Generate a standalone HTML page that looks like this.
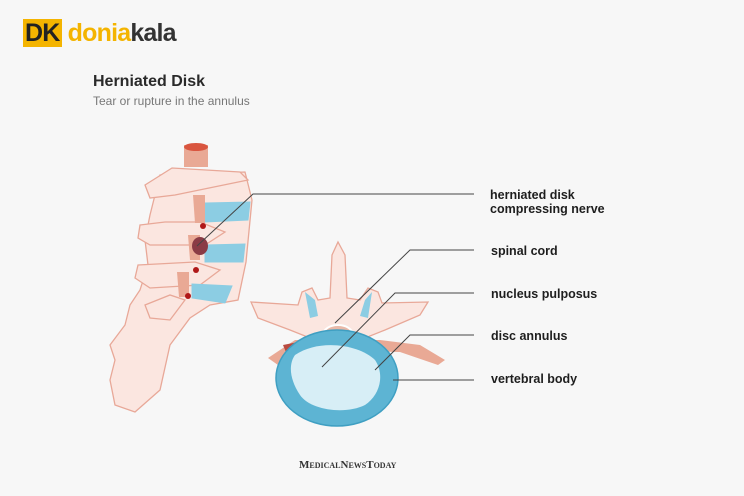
<!DOCTYPE html>
<html><head><meta charset="utf-8"><style>
body{margin:0;width:744px;height:496px;background:#f7f7f7;overflow:hidden;position:relative;font-family:"Liberation Sans",sans-serif}
.t{position:absolute;font-weight:bold;font-size:12.5px;color:#1e1e1e;line-height:14px}
</style></head><body>
<div style="position:absolute;left:23px;top:19px;font-weight:bold;font-size:25px;letter-spacing:-0.8px;line-height:28px"><span style="color:#f4b400;background:#f4b400;color:#222;padding:0 2px">DK</span><span style="color:#f4b400"> donia</span><span style="color:#333">kala</span></div>
<div style="position:absolute;left:93px;top:73px;font-weight:bold;font-size:16px;color:#2a2a2a">Herniated Disk</div>
<div style="position:absolute;left:93px;top:94px;font-size:12px;color:#777">Tear or rupture in the annulus</div>
<svg width="744" height="496" style="position:absolute;left:0;top:0">
<g stroke="#e8a898" stroke-width="1.3" fill="#fbe6e0">
<path d="M160,175 L245,172 L252,200 L246,262 L238,300 L210,305 L190,318 L170,345 L160,390 L135,412 L115,405 L110,380 L115,360 L110,345 L125,325 L130,305 L140,290 L148,265 L145,240 L150,215 Z"/>
<path d="M145,185 L172,168 L240,172 L248,180 L175,195 L150,198 Z"/>
<path d="M140,225 L165,222 L200,222 L225,232 L205,245 L150,245 L138,238Z"/>
<path d="M138,265 L195,262 L220,270 L200,285 L150,288 L135,278Z"/>
<path d="M145,305 L170,295 L185,300 L170,320 L150,318Z"/>
</g>
<g fill="#8ccde3" stroke="#8ccde3">
<path d="M205,203 L250,202 L248,220 L205,222Z"/>
<path d="M205,245 L245,244 L243,262 L205,262Z"/>
<path d="M192,284 L232,286 L225,303 L192,298Z"/>
</g>
<rect x="184" y="145" width="24" height="22" fill="#e9a995"/>
<ellipse cx="196" cy="147" rx="12" ry="4" fill="#d9553f"/>
<path d="M193,195 h12 v28 h-10z" fill="#e9a995"/>
<path d="M188,235 h12 v25 h-10z" fill="#e9a995"/>
<path d="M177,272 h12 v25 h-10z" fill="#e9a995"/>
<ellipse cx="200" cy="246" rx="8" ry="9" fill="#8a3b45"/>
<circle cx="203" cy="226" r="3" fill="#b01818"/><circle cx="196" cy="270" r="3" fill="#b01818"/><circle cx="188" cy="296" r="3" fill="#b01818"/>
<g stroke="#e8a898" stroke-width="1.3" fill="#fbe6e0">
<path d="M251,302 L298,305 L302,292 L312,288 L318,300 L330,298 L332,255 L338,242 L345,255 L347,298 L360,300 L368,288 L378,292 L382,303 L428,302 L420,315 L385,330 L360,340 L315,340 L290,330 L258,318 Z"/>
</g>
<path d="M305,292 L315,300 L318,316 L310,318Z" fill="#8ccde3"/>
<path d="M372,292 L365,300 L360,316 L368,318Z" fill="#8ccde3"/>
<ellipse cx="338" cy="335" rx="15" ry="10" fill="#e9b9a8" stroke="#fff" stroke-width="2"/>
<path d="M268,358 L295,340 L380,340 L420,345 L445,360 L438,365 L400,352 L290,350 L278,365Z" fill="#e9a995"/>
<path d="M283,345 L308,340 L300,356 L288,357Z" fill="#b84a3f"/>
<ellipse cx="337" cy="378" rx="61" ry="48" fill="#5db4d3" stroke="#3f9fc2" stroke-width="1.5"/>
<path d="M295,355 C320,338 360,345 375,360 C385,375 380,395 365,405 C345,415 310,410 300,395 C290,380 288,365 295,355Z" fill="#d7eef6"/>
<g fill="none" stroke="#444" stroke-width="1">
<polyline points="197,246 253,194 474,194"/>
<polyline points="335,323 410,250 474,250"/>
<polyline points="322,367 395,293 474,293"/>
<polyline points="375,370 410,335 474,335"/>
<polyline points="393,380 474,380"/>
</g>
</svg>
<div class="t" style="left:490px;top:188px">herniated disk<br>compressing nerve</div>
<div class="t" style="left:491px;top:244px">spinal cord</div>
<div class="t" style="left:491px;top:287px">nucleus pulposus</div>
<div class="t" style="left:491px;top:329px">disc annulus</div>
<div class="t" style="left:491px;top:372px">vertebral body</div>
<div style="position:absolute;left:299px;top:459px;font-family:'Liberation Serif',serif;font-weight:bold;font-size:11px;color:#333;font-variant:small-caps">MedicalNewsToday</div>
</body></html>
